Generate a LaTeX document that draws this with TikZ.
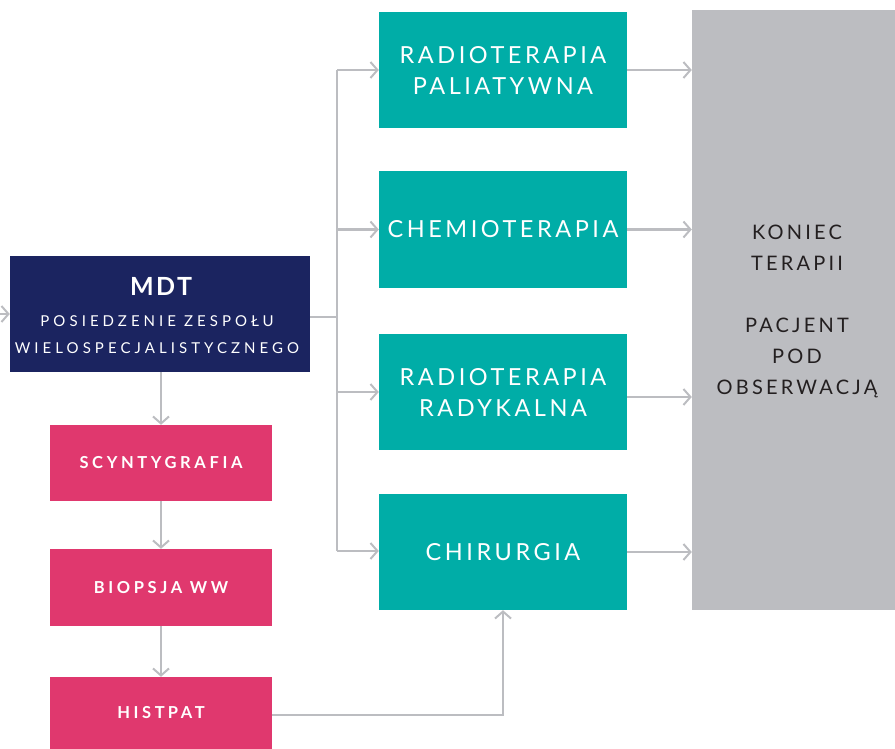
\documentclass[tikz,border=0pt]{standalone}
\usepackage{fontspec}
\setmainfont{Lato}
\newfontfamily\tealfont[LetterSpace=15]{Lato}
\newfontfamily\pinkfont[LetterSpace=22]{Lato Bold}
\newfontfamily\mdtfont[LetterSpace=10]{Lato Bold}
\newfontfamily\subfont[LetterSpace=27]{Lato}
\newfontfamily\grayfont[LetterSpace=16]{Lato}
\usetikzlibrary{arrows.meta,calc}
\definecolor{navy}{HTML}{1B2460}
\definecolor{pinkc}{HTML}{E0386E}
\definecolor{tealc}{HTML}{00ADA7}
\definecolor{grayc}{HTML}{BCBDC1}
\definecolor{txtdark}{HTML}{231F20}
\tikzset{
  boxbase/.style={inner sep=0pt, align=center, text=white, anchor=center},
  mdtbox/.style={boxbase, fill=navy, minimum width=300pt, minimum height=116pt},
  pinkbox/.style={boxbase, fill=pinkc, minimum width=222pt, minimum height=76pt, font=\pinkfont\fontsize{16.5}{18}\selectfont},
  tealbox/.style={boxbase, fill=tealc, minimum width=248pt, minimum height=116pt, font=\tealfont\fontsize{23.5}{31}\selectfont},
  graybox/.style={boxbase, fill=grayc, minimum width=203pt, minimum height=600pt},
  conn/.style={draw=grayc, line width=2pt},
  arr/.style={conn, -{Straight Barb[length=7pt,width=16pt,line width=2pt]}}
}
\begin{document}
\begin{tikzpicture}[x=1pt,y=-1pt]
\useasboundingbox (0,0) rectangle (895,749);
% nodes
\node[mdtbox] (mdt) at (160,314) {};
\node[text=white, align=center, font=\mdtfont\fontsize{25}{28}\selectfont] (mdtt) at (161,286) {MDT};
\node[text=white, align=center, font=\subfont\fontsize{15}{27}\selectfont] (mdts) at (157,334.5) {POSIEDZENIE ZESPOŁU\\WIELOSPECJALISTYCZNEGO};
\node[pinkbox] (scy) at (161,463) {SCYNTYGRAFIA};
\node[pinkbox, minimum height=77pt] (bio) at (161,587.5) {BIOPSJA WW};
\node[pinkbox, minimum height=72pt] (his) at (161,713) {HIST\hspace{3pt}PAT};
\node[tealbox] (t1) at (503,70) {RADIOTERAPIA\\PALIATYWNA};
\node[tealbox, minimum height=117pt] (t2) at (503,229.5) {CHEMIOTERAPIA};
\node[tealbox] (t3) at (503,392) {RADIOTERAPIA\\RADYKALNA};
\node[tealbox] (t4) at (503,552) {CHIRURGIA};
\node[graybox] (end) at (793.5,310) {};
\node[text=txtdark, align=center, font=\grayfont\fontsize{20}{31}\selectfont] (endt) at (797,311) {KONIEC\\TERAPII\\[31pt]PACJENT\\POD\\OBSERWACJĄ};
% connectors
\coordinate (in) at (0,314);
\draw[arr] (in) -- (mdt.west);
\draw[arr] (mdt.south -| scy.north) -- (scy.north);
\draw[arr] (scy.south) -- (bio.north);
\draw[arr] (bio.south) -- (his.north);
\coordinate (bx) at (337,317);
\coordinate (btop) at (337,70);
\coordinate (bbot) at (337,551);
\draw[conn] (mdt.east |- bx) -- (bx);
\draw[conn] (btop) -- (bbot);
\draw[arr] (btop) -- (btop -| t1.west);
\draw[arr] (bx |- t2.west) -- (t2.west);
\draw[arr] (bx |- t3.west) -- (t3.west);
\draw[arr] (bbot) -- (bbot -| t4.west);
\draw[arr] (t1.east |- btop) -- (btop -| end.west);
\draw[arr] (t2.east) -- (t2.east -| end.west);
\draw[arr] ($(t3.east)+(0,5)$) -- ($(t3.east -| end.west)+(0,5)$);
\draw[arr] (t4.east) -- (t4.east -| end.west);
\coordinate (h1) at ($(his.east)+(0,2)$);
\draw[arr] (h1) -| (t4.south);
\end{tikzpicture}
\end{document}
